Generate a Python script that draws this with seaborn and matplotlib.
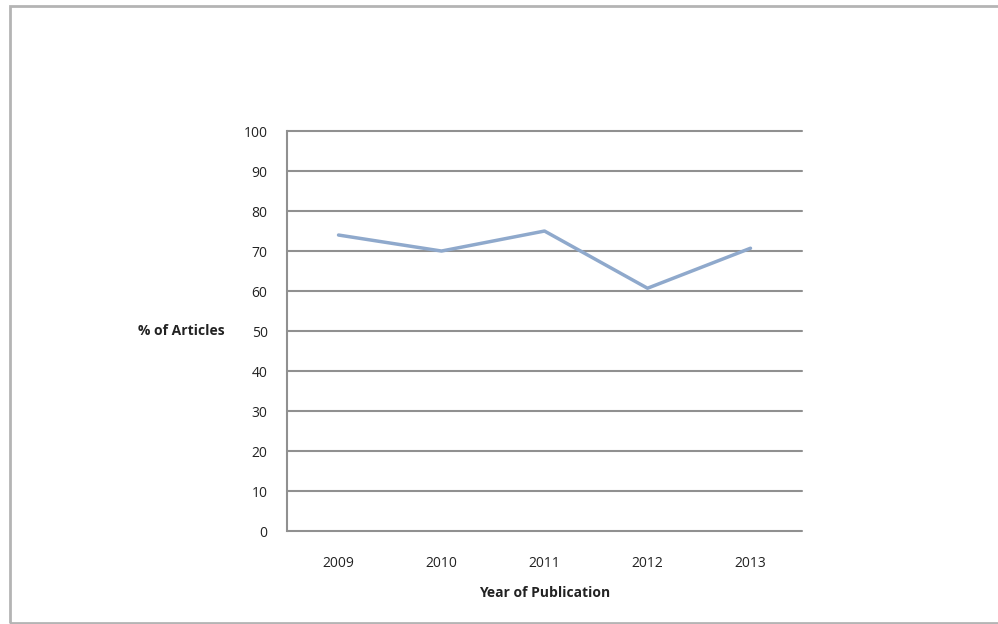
import matplotlib
matplotlib.use("Agg")
import matplotlib.pyplot as plt
from matplotlib.patches import Rectangle
import seaborn as sns
import pandas as pd

years = ["2009", "2010", "2011", "2012", "2013"]
pct_articles = [74, 70, 75, 60.7, 70.7]
y_ticks = [0, 10, 20, 30, 40, 50, 60, 70, 80, 90, 100]

df = pd.DataFrame({"year": years, "pct": pct_articles})

sns.set_theme(style="white")
plt.rcParams["font.family"] = ["Open Sans", "DejaVu Sans"]

fig = plt.figure(figsize=(9.98, 6.24), dpi=100)
ax = fig.add_axes([0.2876, 0.149, 0.516, 0.641])

grid_color = "#909090"
for v in y_ticks:
    ax.axhline(v, color=grid_color, lw=1.5, zorder=1, clip_on=False)

sns.lineplot(data=df, x="year", y="pct", sort=False, color="#8fa9cc",
             lw=2.5, ax=ax, zorder=3)

ax.set_xlim(-0.5, len(years) - 0.5)
ax.set_ylim(0, 100)
ax.set_yticks(y_ticks)
ax.set_yticklabels([str(v) for v in y_ticks])
ax.tick_params(axis="both", length=0, labelsize=10, colors="#222222")
ax.tick_params(axis="y", pad=14)
ax.tick_params(axis="x", pad=18)

for side in ["top", "right", "bottom"]:
    ax.spines[side].set_visible(False)
ax.spines["left"].set_color(grid_color)
ax.spines["left"].set_linewidth(1.5)

ax.set_xlabel("Year of Publication", fontsize=10, fontweight="bold",
              color="#222222", labelpad=11)
ax.set_ylabel("")
fig.text(0.2255, 1 - 331 / 624, "% of Articles", fontsize=10,
         fontweight="bold", color="#222222", ha="right", va="center")

# outer frame around the chart
fig.patches.append(Rectangle((10 / 998, 1 / 624), 1.2, 617 / 624,
                             transform=fig.transFigure, fill=False,
                             edgecolor="#b4b4b4", lw=2.0))

fig.savefig("out.png", dpi=100, facecolor="white")
